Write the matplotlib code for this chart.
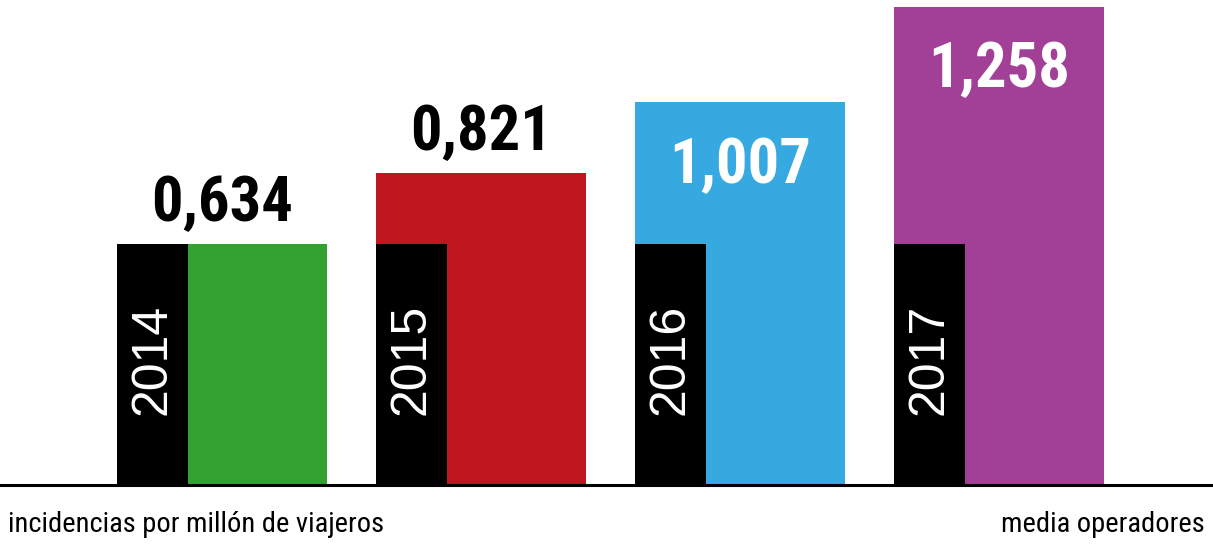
import numpy as np
import matplotlib
matplotlib.use("Agg")
import matplotlib.pyplot as plt

# data
years = ["2014", "2015", "2016", "2017"]
values = [0.634, 0.821, 1.007, 1.258]
labels = ["0,634", "0,821", "1,007", "1,258"]
colors = ["#33a12f", "#c0161f", "#36a9e1", "#a23f97"]
label_inside = [False, False, True, True]
year_bar_height = 0.634  # black bars holding the year, same height everywhere

narrow = ["Roboto Condensed", "Archivo Narrow", "IBM Plex Sans Condensed",
          "Liberation Sans", "DejaVu Sans"]
regular = ["Liberation Sans", "DejaVu Sans"]

fig = plt.figure(figsize=(12.13, 5.45), dpi=100)
ax = fig.add_axes([0, 0, 1, 1])

x = np.arange(len(years))
group_w = 0.811
black_w = 0.274
left = x - 0.405

# coloured bars span the whole group, black year bar sits in front on the left
ax.bar(left, values, width=group_w, align="edge", color=colors, zorder=1)
ax.bar(left, [year_bar_height] * len(x), width=black_w, align="edge",
       color="black", zorder=2)

ax.axhline(0, color="black", lw=2.2, zorder=3)

for i in range(len(x)):
    ax.text(left[i] + black_w / 2, 0.33, years[i], rotation=90, color="white",
            ha="center", va="center", fontsize=36, family=regular, zorder=4)
    if label_inside[i]:
        ax.text(x[i], values[i] - 0.088, labels[i], color="white", ha="center",
                va="top", fontsize=45, fontweight="bold", family=narrow, zorder=4)
    else:
        ax.text(x[i], values[i] + 0.06, labels[i], color="black", ha="center",
                va="baseline", fontsize=45, fontweight="bold", family=narrow, zorder=4)

fig.text(8 / 1213, 0.024, "incidencias por millón de viajeros", ha="left",
         va="baseline", fontsize=20.5, family=narrow, color="black")
fig.text(1205 / 1213, 0.024, "media operadores", ha="right",
         va="baseline", fontsize=20.5, family=narrow, color="black")

ax.set_xlim(-0.857, 3.826)
ax.set_ylim(-0.158, 1.276)
ax.axis("off")

fig.savefig("out.png", dpi=100, facecolor="white")
